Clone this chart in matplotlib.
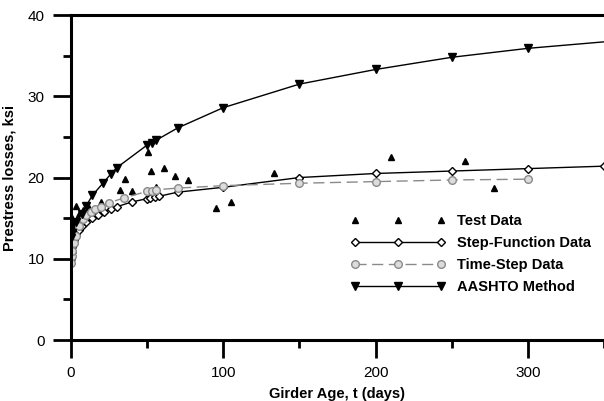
import numpy as np
import matplotlib.pyplot as plt
from matplotlib.ticker import MultipleLocator

plt.rcParams['font.family'] = ['Liberation Sans', 'DejaVu Sans']

# Test data (t in days, loss in ksi)
test_t = [0.5, 1, 2, 3, 5, 8, 12, 20, 32, 35.5, 40, 50.5, 52.5, 56, 61, 68.5, 77, 95, 105, 133, 210, 259, 278]
test_y = [14.0, 15.0, 14.5, 16.5, 15.5, 16.0, 16.2, 17.0, 18.5, 19.8, 18.4, 23.2, 20.8, 18.8, 21.2, 20.2, 19.7, 16.2, 17.0, 20.5, 22.5, 22.0, 18.7]

# Step-function data
step_t = [0, 0.5, 1, 2, 3, 5, 7, 10, 14, 18, 22, 26, 30, 40, 50, 52, 55, 58, 70, 100, 150, 200, 250, 300, 350]
step_y = [10.0, 10.8, 11.5, 12.3, 13.0, 13.6, 14.0, 14.5, 15.0, 15.4, 15.8, 16.1, 16.4, 17.0, 17.4, 17.5, 17.6, 17.7, 18.2, 18.8, 20.0, 20.5, 20.8, 21.1, 21.4]

# Time-step data
ts_t = [0, 0.5, 1, 2, 3, 5, 8, 10, 13, 16, 20, 25, 35, 50, 53, 56, 70, 100, 150, 200, 250, 300]
ts_y = [9.5, 10.3, 11.0, 12.0, 12.8, 14.0, 14.9, 15.4, 15.8, 16.1, 16.4, 16.9, 17.5, 18.3, 18.4, 18.5, 18.7, 19.0, 19.3, 19.5, 19.7, 19.8]

# AASHTO method
aashto_t = [0, 1, 3, 7, 10, 14, 21, 26, 30, 50, 53, 56, 70, 100, 150, 200, 250, 300, 350]
aashto_y = [12.6, 13.2, 14.5, 15.5, 16.5, 17.8, 19.3, 20.4, 21.2, 24.0, 24.3, 24.6, 26.1, 28.6, 31.5, 33.3, 34.8, 35.9, 36.7]

fig = plt.figure(figsize=(6.04, 4.01), dpi=100)
ax = fig.add_axes([0.1175, 0.152, 0.8825, 0.8105])

ax.plot(test_t, test_y, linestyle='none', marker='^', color='black', markersize=5, label='Test Data')
ax.plot(step_t, step_y, '-', color='black', lw=1.0, marker='D', markersize=4,
        mfc='white', mec='black', mew=1.0, label='Step-Function Data')
ax.plot(ts_t, ts_y, color='#8a8a8a', lw=1.0, linestyle=(0, (8, 4)), marker='o', markersize=5.5,
        mfc='#dcdcdc', mec='#8a8a8a', mew=1.0, label='Time-Step Data')
ax.plot(aashto_t, aashto_y, '-', color='black', lw=1.0, marker='v', markersize=5.5,
        markevery=list(range(len(aashto_t) - 1)), label='AASHTO Method')

ax.set_xlim(0, 350)
ax.set_ylim(0, 40)
ax.xaxis.set_major_locator(MultipleLocator(100))
ax.xaxis.set_minor_locator(MultipleLocator(50))
ax.yaxis.set_major_locator(MultipleLocator(10))
ax.yaxis.set_minor_locator(MultipleLocator(5))
ax.tick_params(which='major', direction='out', length=13, width=2, labelsize=11, pad=6)
ax.tick_params(which='minor', direction='out', length=6, width=2)

for s in ['left', 'bottom', 'top']:
    ax.spines[s].set_linewidth(2.2)
ax.spines['right'].set_visible(False)

ax.set_xlabel('Girder Age, t (days)', fontsize=10.5, fontweight='bold', labelpad=5)
ax.set_ylabel('Prestress losses, ksi', fontsize=10.5, fontweight='bold', labelpad=8)

leg = ax.legend(loc='upper left', bbox_to_anchor=(0.5, 0.428), frameon=False, numpoints=3,
                handlelength=6.5, handletextpad=0.8, labelspacing=0.55,
                prop={'weight': 'bold', 'size': 10.5})

fig.savefig('out.png', dpi=100)
